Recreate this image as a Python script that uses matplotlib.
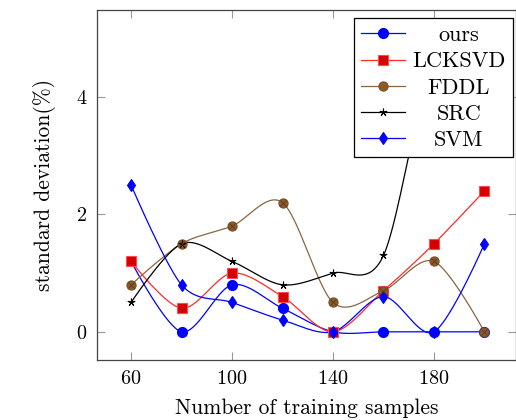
import numpy as np
import matplotlib
matplotlib.use('Agg')
import matplotlib.pyplot as plt

plt.rcParams['font.family'] = 'cmr10'
plt.rcParams['mathtext.fontset'] = 'cm'
plt.rcParams['axes.formatter.use_mathtext'] = True

samples = [60, 80, 100, 120, 140, 160, 180, 200]
ours = [1.2, 0, 0.8, 0.4, 0, 0, 0, 0]
lcksvd = [1.2, 0.4, 1.0, 0.6, 0, 0.7, 1.5, 2.4]
fddl = [0.8, 1.5, 1.8, 2.2, 0.5, 0.7, 1.2, 0]
src = [0.5, 1.5, 1.2, 0.8, 1.0, 1.3, 4.7, 5.0]
svm = [2.5, 0.8, 0.5, 0.2, 0, 0.6, 0, 1.5]
labels = ['ours', 'LCKSVD', 'FDDL', 'SRC', 'SVM']


# smooth curve like tikz "smooth" (tension 0.55)
def smooth(x, y, tension=0.55, n=40):
    p = np.column_stack([x, y]).astype(float)
    f = 0.2775 * tension
    m = len(p)
    out = []
    for i in range(m - 1):
        p0, p3 = p[i], p[i + 1]
        c1 = p0 if i == 0 else p0 + f * (p[i + 1] - p[i - 1])
        c2 = p3 if i == m - 2 else p3 - f * (p[i + 2] - p[i])
        t = np.linspace(0, 1, n)[:, None]
        seg = (1 - t) ** 3 * p0 + 3 * (1 - t) ** 2 * t * c1 + 3 * (1 - t) * t ** 2 * c2 + t ** 3 * p3
        out.append(seg if i == 0 else seg[1:])
    out = np.vstack(out)
    return out[:, 0], out[:, 1]


fig = plt.figure(figsize=(5.16, 4.2), dpi=100)
ax = fig.add_axes([97 / 516, 60 / 420, 419 / 516, 350 / 420])

styles = [
    (ours, 'blue', 'blue', 'blue', 'o', 7.2),
    (lcksvd, '#ff2a2a', '#d40000', '#ff4d4d', 's', 6.8),
    (fddl, '#8c6440', '#8b5a2b', '#7a4e25', 'o', 6.6),
    (src, 'black', 'black', 'black', (5, 2, 0), 5.5),
    (svm, 'blue', 'blue', 'blue', 'd', 6.2),
]
handles = []
for (vals, lc, fc, ec, mk, ms), lab in zip(styles, labels):
    sx, sy = smooth(samples, vals)
    ax.plot(sx, sy, color=lc, lw=0.9, zorder=2)
    ax.plot(samples, vals, ls='none', marker=mk, ms=ms, mfc=fc, mec=ec, mew=0.8, zorder=3)
    h, = ax.plot([], [], color=lc, lw=0.9, marker=mk, ms=ms, mfc=fc, mec=ec, mew=0.8, label=lab)
    handles.append(h)
    if lab == 'FDDL':
        ax.plot(samples, vals, ls='none', marker='x', ms=ms * 0.6, mec='#5a3a1a', mew=0.6, zorder=4)

ax.set_xlim(46.5, 212.5)
ax.set_ylim(-0.48, 5.48)
ax.set_xticks([60, 100, 140, 180])
ax.set_yticks([0, 2, 4])
ax.tick_params(direction='in', length=6, width=0.8, color='#999999', labelsize=14.5,
               top=True, right=True, pad=7)
for s in ax.spines.values():
    s.set_color('#444444')
    s.set_linewidth(0.9)

ax.set_xlabel('Number of training samples', fontsize=15.5, labelpad=8)
ax.set_ylabel('standard deviation(%)', fontsize=15.5, labelpad=14)

leg = ax.legend(handles=handles, loc='upper right', bbox_to_anchor=(0.992, 0.976), fontsize=16,
                frameon=True, fancybox=False, edgecolor='black', framealpha=1, borderaxespad=0,
                handlelength=2.0, handletextpad=0.3, labelspacing=0.3, borderpad=0.32)
leg.get_frame().set_linewidth(0.9)

# center legend texts like pgfplots
fig.canvas.draw()
texts = leg.get_texts()
widths = [t.get_window_extent().width for t in texts]
mw = max(widths)
for t, w in zip(texts, widths):
    t.set_position(((mw - w) / 2, 0))

fig.savefig('out.png', dpi=100)
